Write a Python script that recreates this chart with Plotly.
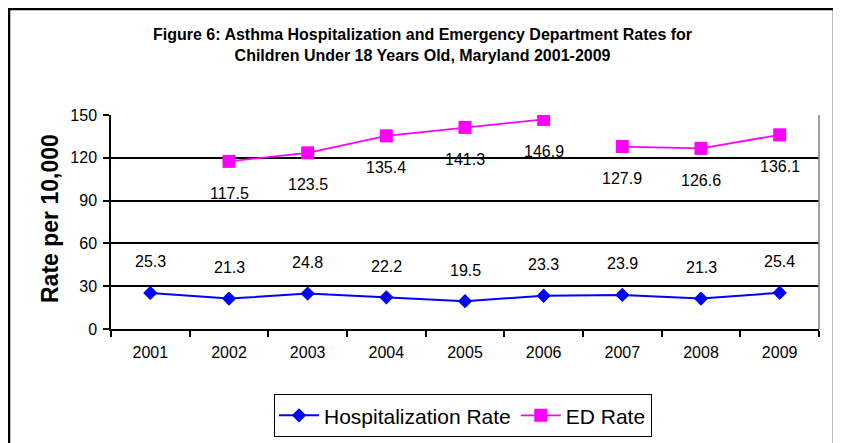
import plotly.graph_objects as go

years = ["2001", "2002", "2003", "2004", "2005", "2006", "2007", "2008", "2009"]
hosp_rate = [25.3, 21.3, 24.8, 22.2, 19.5, 23.3, 23.9, 21.3, 25.4]
ed_years = ["2002", "2003", "2004", "2005", "2006", "2007", "2008", "2009"]
ed_rate = [117.5, 123.5, 135.4, 141.3, 146.9, 127.9, 126.6, 136.1]
ed_break_after = "2006"  # line is not drawn between 2006 and 2007
y_ticks = [0, 30, 60, 90, 120, 150]

title_text = ("Figure 6: Asthma Hospitalization and Emergency Department Rates for<br>"
              "Children Under 18 Years Old, Maryland 2001-2009")
y_title = "Rate per 10,000"

# page has an 8px body margin: figure origin sits at page (8, 8)
O = 8
W, H = 841 - O, 443 - O
L, T = 111 - O, 115 - O
R = W - (819 - O)
B = H - (329 - O)
pw, ph = W - L - R, H - T - B

def px_x(x):
    return (x - O - L) / pw

def px_y(y):
    return (H - B - (y - O)) / ph

FONT = "Liberation Sans, Arial, sans-serif"

fig = go.Figure()

fig.add_trace(go.Scatter(
    x=years, y=hosp_rate, mode="lines+markers", name="Hospitalization Rate",
    line=dict(color="#0000FF", width=2),
    marker=dict(symbol="diamond", size=11, color="#0000FF"),
))

k = ed_years.index(ed_break_after) + 1
fig.add_trace(go.Scatter(
    x=ed_years[:k], y=ed_rate[:k], mode="lines+markers", name="ED Rate",
    line=dict(color="#FF00FF", width=1.8),
    marker=dict(symbol="square", size=13, color="#FF00FF"),
    legendgroup="ed",
))
fig.add_trace(go.Scatter(
    x=ed_years[k:], y=ed_rate[k:], mode="lines+markers", name="ED Rate",
    line=dict(color="#FF00FF", width=1.8),
    marker=dict(symbol="square", size=13, color="#FF00FF"),
    legendgroup="ed", showlegend=False,
))

annotations = []
for x, v in zip(years, hosp_rate):
    annotations.append(dict(x=years.index(x), y=v, text=f"{v:.1f}", showarrow=False, yshift=31,
                            font=dict(family=FONT, size=16, color="black")))
for x, v in zip(ed_years, ed_rate):
    annotations.append(dict(x=years.index(x), y=v, text=f"{v:.1f}", showarrow=False, yshift=-32,
                            font=dict(family=FONT, size=16, color="black")))

annotations.append(dict(xref="paper", yref="paper", x=px_x(422), y=px_y(45),
                        text="<b>" + title_text + "</b>", showarrow=False,
                        xanchor="center", yanchor="middle",
                        font=dict(family=FONT, size=16, color="black")))
annotations.append(dict(xref="paper", yref="paper", x=px_x(50), y=px_y(219),
                        text="<b>" + y_title + "</b>", showarrow=False, textangle=-90,
                        xanchor="center", yanchor="middle",
                        font=dict(family=FONT, size=23, color="black")))

shapes = [
    # outer frame
    dict(type="rect", xref="paper", yref="paper",
         x0=px_x(9), x1=px_x(834), y0=px_y(470), y1=px_y(9),
         line=dict(color="black", width=2.5), layer="below"),
    # right plot border
    dict(type="line", xref="paper", yref="paper", x0=1, x1=1, y0=0, y1=1,
         line=dict(color="#808080", width=1.5)),
]

fig.update_layout(
    width=W, height=H,
    margin=dict(l=L, r=R, t=T, b=B, pad=0, autoexpand=False),
    paper_bgcolor="white", plot_bgcolor="white",
    font=dict(family=FONT, color="black"),
    showlegend=True,
    legend=dict(orientation="h", x=px_x(463), xanchor="center", y=px_y(394), yanchor="top",
                bordercolor="black", borderwidth=1.2, bgcolor="white",
                font=dict(family=FONT, size=21, color="black"),
                itemwidth=40, tracegroupgap=0),
    annotations=annotations,
    shapes=shapes,
)

fig.update_xaxes(type="category", categoryorder="array", categoryarray=years,
                 range=[-0.5, len(years) - 0.5],
                 showline=True, linecolor="black", linewidth=1.5,
                 ticks="outside", tickson="boundaries", ticklen=6, tickcolor="black", tickwidth=1.5,
                 ticklabelstandoff=8,
                 showgrid=False, tickfont=dict(family=FONT, size=16, color="black"))

fig.update_yaxes(range=[0, 150], tickvals=y_ticks, showline=True, linecolor="black", linewidth=1.5,
                 ticks="outside", ticklen=6, tickcolor="black", tickwidth=1.5,
                 ticklabelstandoff=3,
                 showgrid=True, gridcolor="black", gridwidth=1.5, zeroline=False,
                 tickfont=dict(family=FONT, size=16, color="black"))

fig.write_html("out.html")
